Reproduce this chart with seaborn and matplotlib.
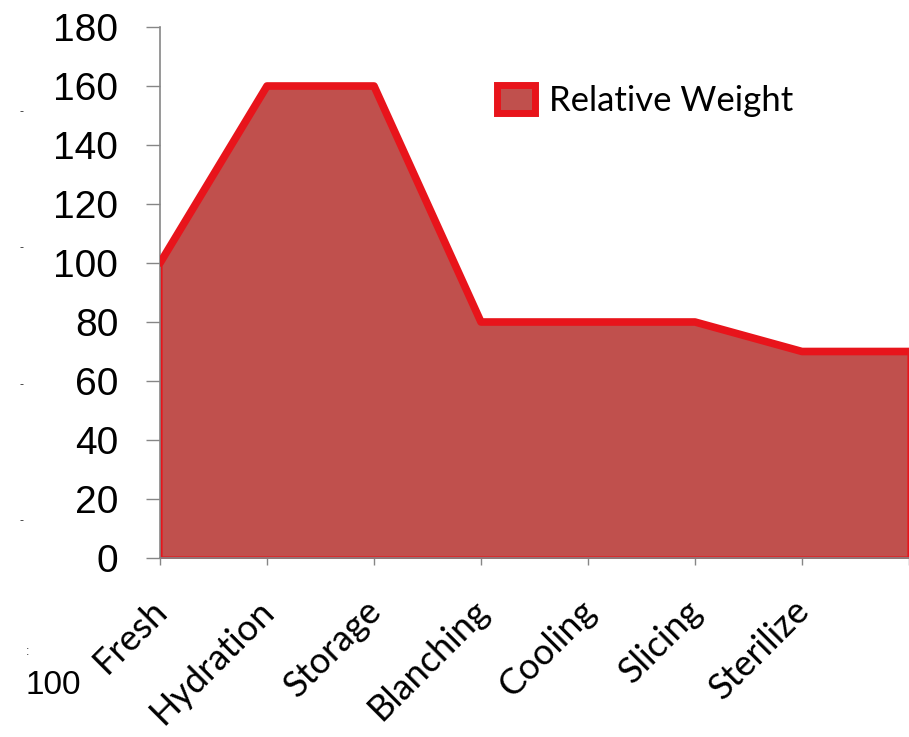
import matplotlib
matplotlib.use("Agg")
import matplotlib.pyplot as plt
import matplotlib.transforms as mtransforms
from matplotlib.patches import Patch
import seaborn as sns
import pandas as pd

# process steps (last point has no label, it sits on the right edge)
steps = ["Fresh", "Hydration", "Storage", "Blanching", "Cooling", "Slicing", "Sterilize", ""]
weights = [100, 160, 160, 80, 80, 80, 70, 70]
y_ticks = [0, 20, 40, 60, 80, 100, 120, 140, 160, 180]
series_name = "Relative Weight"

fill_color = "#C0504D"
edge_color = "#E8141B"
axis_gray = "#868686"

sns.set_theme(style="white")
plt.rcParams["font.family"] = ["Liberation Sans", "DejaVu Sans"]
plt.rcParams["text.color"] = "black"

df = pd.DataFrame({"pos": range(len(steps)), "step": steps, "weight": weights})

fig = plt.figure(figsize=(9.09, 7.37), dpi=100)
ax = fig.add_axes([160 / 909, 1 - 558 / 737, 1 - 160 / 909, (558 - 27) / 737])

# area + thick outline
ax.fill_between(df["pos"], df["weight"], 0, facecolor=fill_color,
                edgecolor=edge_color, linewidth=3, zorder=2)
sns.lineplot(data=df, x="pos", y="weight", color=edge_color, linewidth=5.5,
             ax=ax, zorder=3)

ax.set_xlim(0, len(steps) - 1)
ax.set_ylim(0, 180)
ax.set_xlabel("")
ax.set_ylabel("")

for s in ["top", "right"]:
    ax.spines[s].set_visible(False)
ax.spines["left"].set_color(axis_gray)
ax.spines["bottom"].set_color(axis_gray)
ax.spines["left"].set_linewidth(1.2)

ax.set_yticks(y_ticks)
ax.tick_params(axis="y", length=10, width=1, color=axis_gray, pad=20,
               labelsize=28, labelcolor="black", left=True)
ax.set_xticks(df["pos"])
ax.set_xticklabels(df["step"])
ax.tick_params(axis="x", length=5, width=1, color=axis_gray, pad=29,
               bottom=True, labelcolor="black")

offset = mtransforms.ScaledTranslation(2 / 100, 0, fig.dpi_scale_trans)
for lab in ax.get_xticklabels():
    lab.set_rotation(45)
    lab.set_ha("right")
    lab.set_va("center")
    lab.set_rotation_mode("anchor")
    lab.set_family(["Lato", "DejaVu Sans"])
    lab.set_fontsize(26)
    lab.set_transform(lab.get_transform() + offset)

handle = Patch(facecolor=fill_color, edgecolor=edge_color, linewidth=5,
               label=series_name)
leg = ax.legend(handles=[handle], loc="center left",
                bbox_to_anchor=(497 / 909, 1 - 101 / 737),
                bbox_transform=fig.transFigure,
                frameon=False, handlelength=1.1, handleheight=0.85,
                handletextpad=0.4, borderpad=0, borderaxespad=0,
                prop={"family": ["Lato", "DejaVu Sans"], "size": 25})
for t in leg.get_texts():
    t.set_color("black")

# stray marks on the left edge of the original picture
for yy in [112, 248, 385, 521]:
    fig.text(22 / 909, 1 - yy / 737, "-", fontsize=9, color="#333333",
             ha="center", va="center")
fig.text(28 / 909, 1 - 652 / 737, ":", fontsize=9, color="#333333",
         ha="center", va="center")
fig.text(53 / 909, 1 - 685 / 737, "100", fontsize=24, color="black",
         ha="center", va="center")

fig.savefig("out.png", dpi=100)
